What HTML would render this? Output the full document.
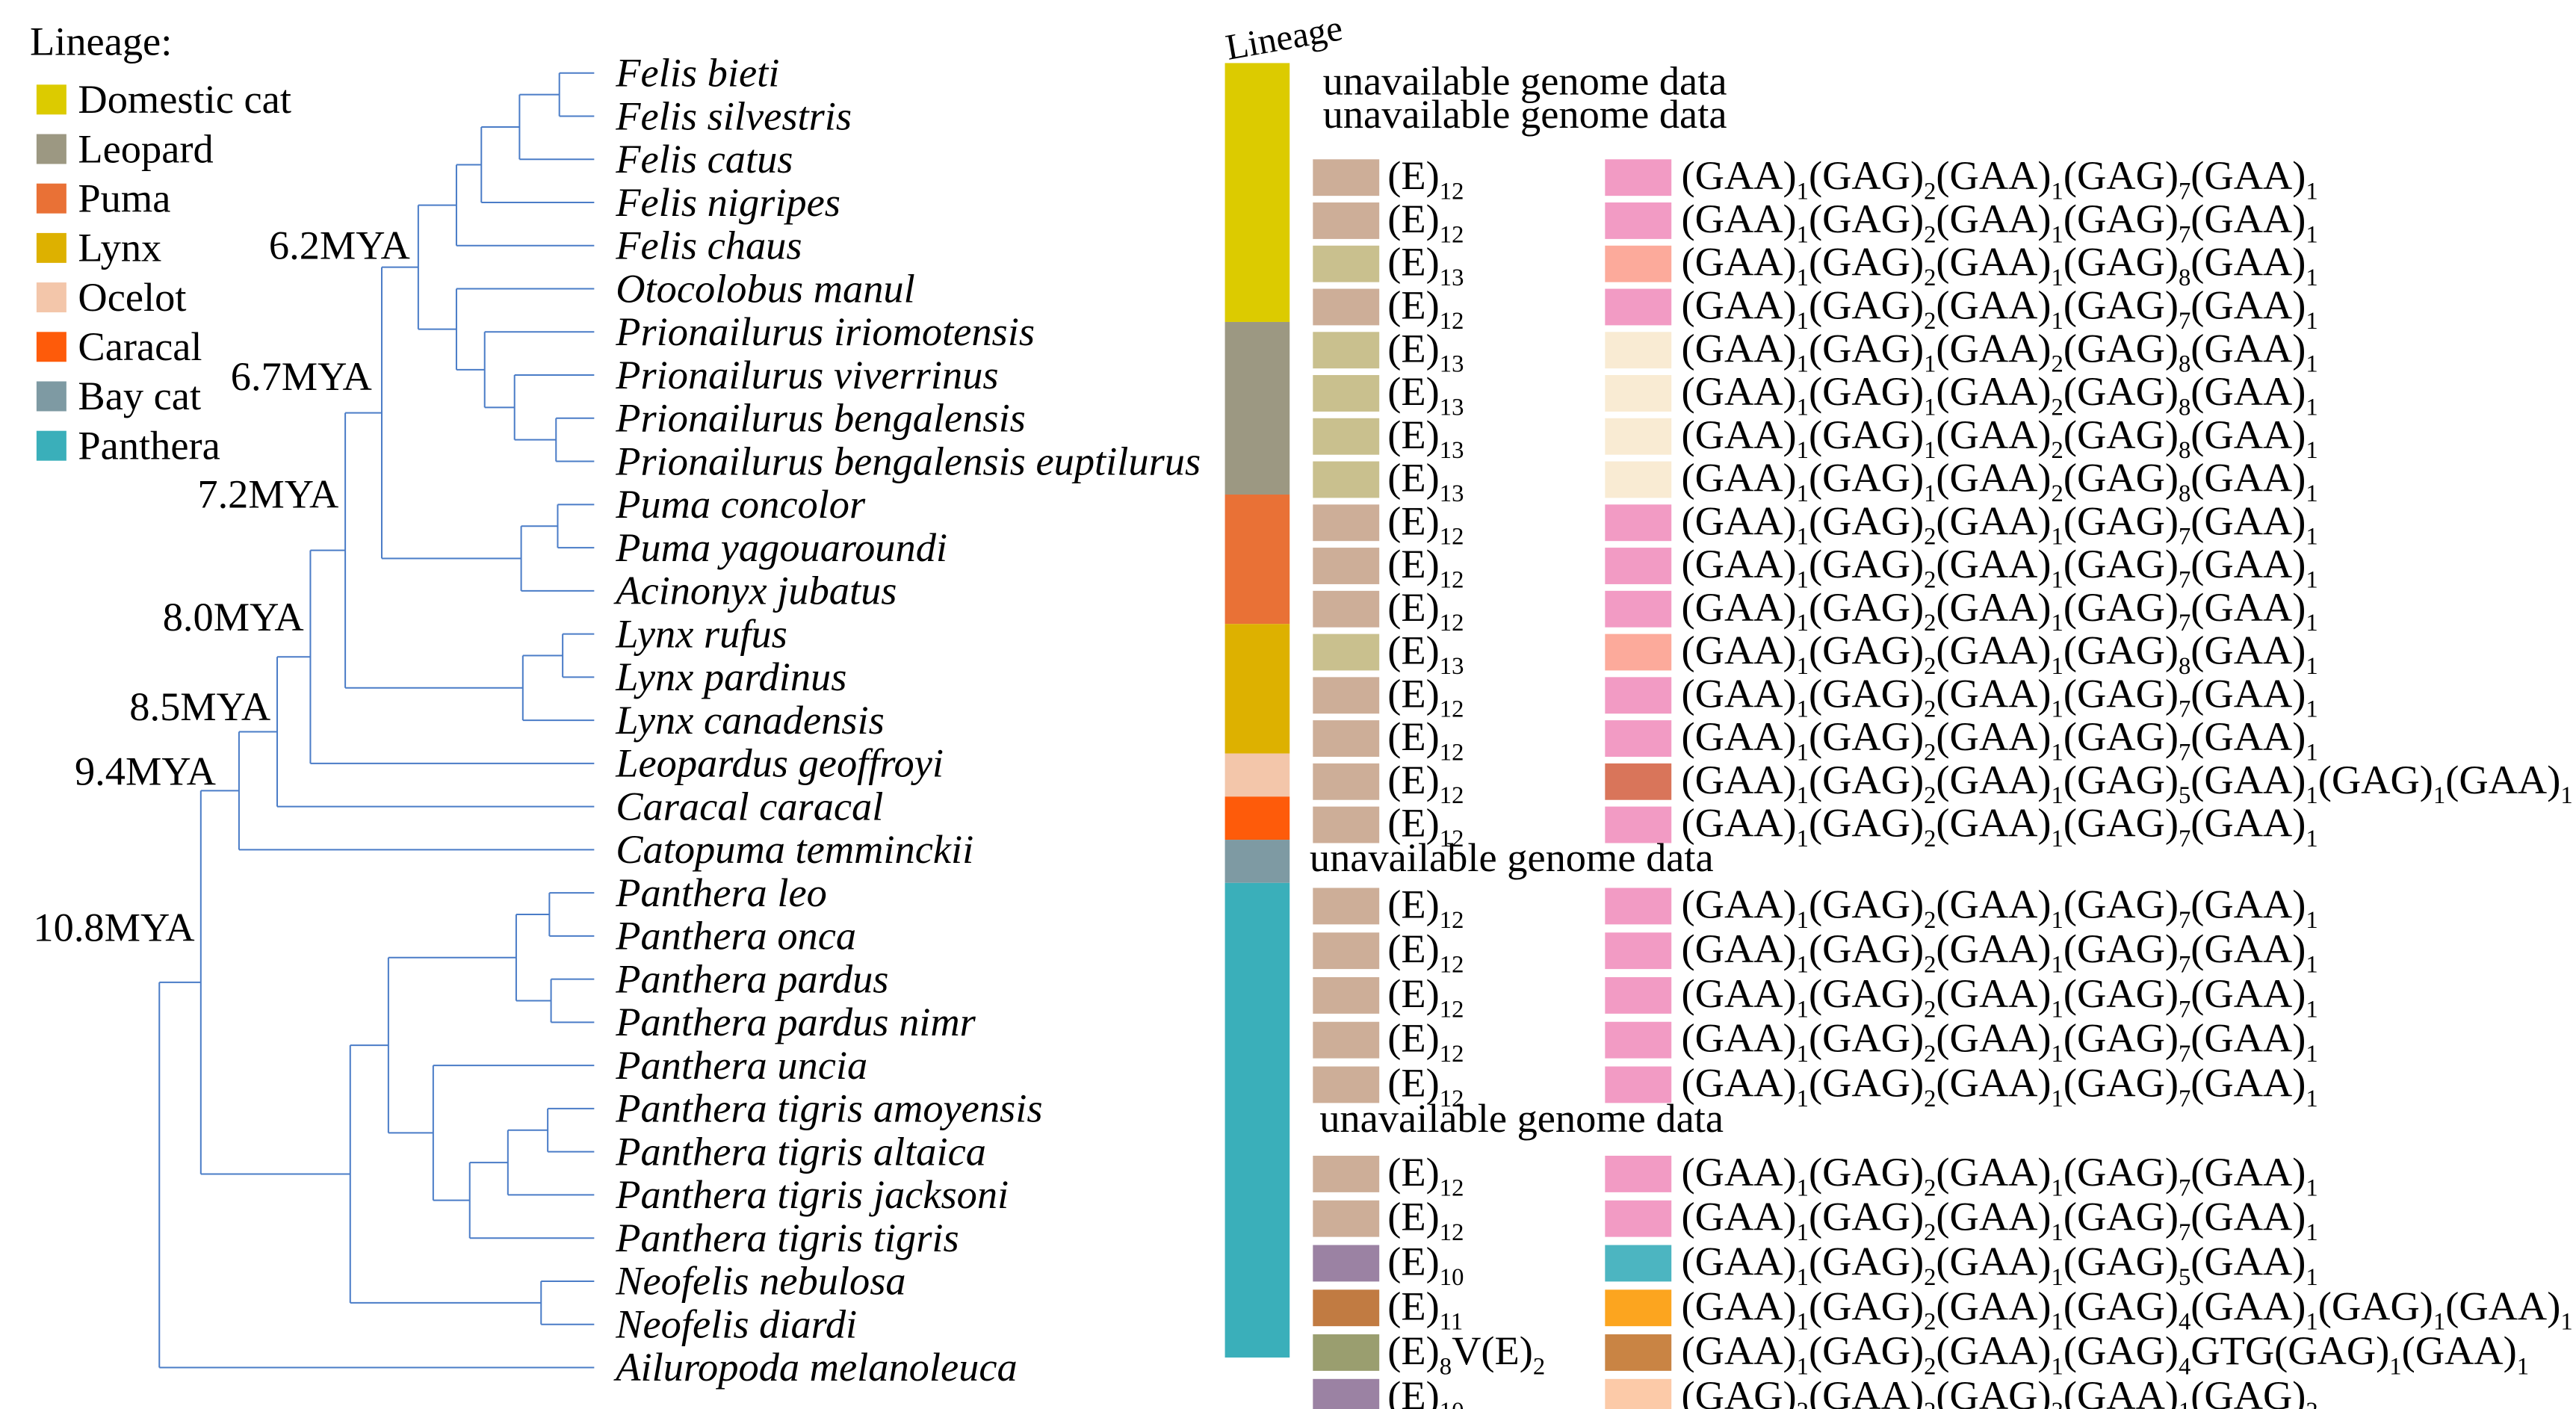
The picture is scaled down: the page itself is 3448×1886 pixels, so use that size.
<!DOCTYPE html>
<html><head><meta charset="utf-8"><style>
html,body{margin:0;padding:0;background:#fff;}
svg{display:block;}
text{font-family:"Liberation Serif","Times New Roman",serif;fill:#000;}
</style></head><body>
<svg id="chart" xmlns="http://www.w3.org/2000/svg" width="3448" height="1886" viewBox="0 0 1552 849" preserveAspectRatio="none" font-family="Liberation Serif, serif">
<rect width="1552" height="849" fill="#fff"/>
<g id="legend"></g>
<g id="tree"></g>
<g id="labels"></g>
<g id="ages"></g>
<g id="bar"></g>
<g id="table"></g>
</svg>
<script>
const species=["Felis bieti","Felis silvestris","Felis catus","Felis nigripes","Felis chaus","Otocolobus manul","Prionailurus iriomotensis","Prionailurus viverrinus","Prionailurus bengalensis","Prionailurus bengalensis euptilurus","Puma concolor","Puma yagouaroundi","Acinonyx jubatus","Lynx rufus","Lynx pardinus","Lynx canadensis","Leopardus geoffroyi","Caracal caracal","Catopuma temminckii","Panthera leo","Panthera onca","Panthera pardus","Panthera pardus nimr","Panthera uncia","Panthera tigris amoyensis","Panthera tigris altaica","Panthera tigris jacksoni","Panthera tigris tigris","Neofelis nebulosa","Neofelis diardi","Ailuropoda melanoleuca"];
const lineageNames=["Domestic cat","Leopard","Puma","Lynx","Ocelot","Caracal","Bay cat","Panthera"];
const lineageColors=["#dccb00","#9c9882","#e97136","#ddb100","#f3c6aa","#fe5b0a","#7e9aa3","#3aafba"];
const lineageRows=[6,4,3,3,1,1,1,11];
const ageLabels=["6.2MYA","6.7MYA","7.2MYA","8.0MYA","8.5MYA","9.4MYA","10.8MYA"];
const agePos=[[162,156],[139,235],[119,306],[98,380],[78,434],[45,473],[20,567]];
const eLabels=["","", "(E)_12","(E)_12","(E)_13","(E)_12","(E)_13","(E)_13","(E)_13","(E)_13","(E)_12","(E)_12","(E)_12","(E)_13","(E)_12","(E)_12","(E)_12","(E)_12"];
const eColors=["","","#cdae98","#cdae98","#c9c08e","#cdae98","#c9c08e","#c9c08e","#c9c08e","#c9c08e","#cdae98","#cdae98","#cdae98","#c9c08e","#cdae98","#cdae98","#cdae98","#cdae98"];
const gLabels=["","","(GAA)_1(GAG)_2(GAA)_1(GAG)_7(GAA)_1","(GAA)_1(GAG)_2(GAA)_1(GAG)_7(GAA)_1","(GAA)_1(GAG)_2(GAA)_1(GAG)_8(GAA)_1","(GAA)_1(GAG)_2(GAA)_1(GAG)_7(GAA)_1","(GAA)_1(GAG)_1(GAA)_2(GAG)_8(GAA)_1","(GAA)_1(GAG)_1(GAA)_2(GAG)_8(GAA)_1","(GAA)_1(GAG)_1(GAA)_2(GAG)_8(GAA)_1","(GAA)_1(GAG)_1(GAA)_2(GAG)_8(GAA)_1","(GAA)_1(GAG)_2(GAA)_1(GAG)_7(GAA)_1","(GAA)_1(GAG)_2(GAA)_1(GAG)_7(GAA)_1","(GAA)_1(GAG)_2(GAA)_1(GAG)_7(GAA)_1","(GAA)_1(GAG)_2(GAA)_1(GAG)_8(GAA)_1","(GAA)_1(GAG)_2(GAA)_1(GAG)_7(GAA)_1","(GAA)_1(GAG)_2(GAA)_1(GAG)_7(GAA)_1","(GAA)_1(GAG)_2(GAA)_1(GAG)_5(GAA)_1(GAG)_1(GAA)_1","(GAA)_1(GAG)_2(GAA)_1(GAG)_7(GAA)_1"];
const gColors=["","","#f29bc4","#f29bc4","#fcaa9b","#f29bc4","#f9ebd3","#f9ebd3","#f9ebd3","#f9ebd3","#f29bc4","#f29bc4","#f29bc4","#fcaa9b","#f29bc4","#f29bc4","#d9755a","#f29bc4"];
const pELabels=["(E)_12","(E)_12","(E)_12","(E)_12","(E)_12","","(E)_12","(E)_12","(E)_10","(E)_11","(E)_8V(E)_2","(E)_10"];
const pEColors=["#cdae98","#cdae98","#cdae98","#cdae98","#cdae98","","#cdae98","#cdae98","#9b82a3","#c17b42","#9a9e6f","#9b82a3"];
const pGLabels=["(GAA)_1(GAG)_2(GAA)_1(GAG)_7(GAA)_1","(GAA)_1(GAG)_2(GAA)_1(GAG)_7(GAA)_1","(GAA)_1(GAG)_2(GAA)_1(GAG)_7(GAA)_1","(GAA)_1(GAG)_2(GAA)_1(GAG)_7(GAA)_1","(GAA)_1(GAG)_2(GAA)_1(GAG)_7(GAA)_1","","(GAA)_1(GAG)_2(GAA)_1(GAG)_7(GAA)_1","(GAA)_1(GAG)_2(GAA)_1(GAG)_7(GAA)_1","(GAA)_1(GAG)_2(GAA)_1(GAG)_5(GAA)_1","(GAA)_1(GAG)_2(GAA)_1(GAG)_4(GAA)_1(GAG)_1(GAA)_1","(GAA)_1(GAG)_2(GAA)_1(GAG)_4GTG(GAG)_1(GAA)_1","(GAG)_2(GAA)_2(GAG)_3(GAA)_1(GAG)_2"];
const pGColors=["#f29bc4","#f29bc4","#f29bc4","#f29bc4","#f29bc4","","#f29bc4","#f29bc4","#4cb5c1","#fca51f","#c98444","#fccaa8"];

const FS=24.5;
const FF="Liberation Serif, Times New Roman, serif";
const NS="http://www.w3.org/2000/svg";
function mk(tag,attrs,parent){const e=document.createElementNS(NS,tag);for(const k in attrs)e.setAttribute(k,attrs[k]);parent.appendChild(e);return e;}
function richText(parent,x,y,str,size){
  const t=mk("text",{x:x,y:y,"font-size":size,"font-family":FF},parent);
  const re=/([^_]+)|_(\d+)/g;let m;let sub=false;
  while((m=re.exec(str))){
    if(m[1]!==undefined){
      const ts=mk("tspan",{dy:sub?-6:0},t);ts.textContent=m[1];sub=false;
    }else{
      const ts=mk("tspan",{dy:6,"font-size":size*0.6},t);ts.textContent=m[2];sub=true;
    }
  }
  return t;
}
// legend
const lg=document.getElementById("legend");
let t=mk("text",{x:18,y:33,"font-size":FS,"font-family":FF},lg);t.textContent="Lineage:";


lineageNames.forEach((n,i)=>{
  const y=60+i*29.8;
  const r=mk("rect",{x:22,y:y-9,width:18,height:18,fill:lineageColors[i]},lg);
  
  
  const tx=mk("text",{x:47,y:y+8,"font-size":FS,"font-family":FF},lg);tx.textContent=n;
  
  
});
// tree
function leafY(i){return 44+26*i;}
const TIPX=358;
function N(x,c){return {x:x,c:c};}
const felis=N(275,[N(290,[N(313,[N(337,[0,1]),2]),3]),4]);
const prion=N(275,[5,N(292,[6,N(310,[7,N(335,[8,9])])])]);
const puma=N(314,[N(336,[10,11]),12]);
const lynx=N(315,[N(339,[13,14]),15]);
const panth=N(211,[N(234,[N(311,[N(331,[19,20]),N(332,[21,22])]),N(261,[23,N(283,[N(306,[N(330,[24,25]),26]),27])])]),N(326,[28,29])]);
const root=N(96,[N(121,[N(144,[N(167,[N(187,[N(208,[N(230,[N(252,[felis,prion]),puma]),lynx]),16]),17]),18]),panth]),30]);
const tg=document.getElementById("tree");
function draw(n){
  if(typeof n==="number")return leafY(n);
  const ys=n.c.map(ch=>{
    const y=draw(ch);const cx=typeof ch==="number"?TIPX:ch.x;
    const l=mk("line",{x1:n.x,y1:y,x2:cx,y2:y,stroke:"#4a7cc7","stroke-width":0.9},tg);
    
    
    return y;});
  const v=mk("line",{x1:n.x,y1:Math.min(...ys),x2:n.x,y2:Math.max(...ys),stroke:"#4a7cc7","stroke-width":0.9},tg);
  
  
  return (Math.min(...ys)+Math.max(...ys))/2;
}
draw(root);
const lb=document.getElementById("labels");
species.forEach((s,i)=>{
  const tx=mk("text",{x:371,y:leafY(i)+8,"font-size":FS,"font-style":"italic","font-family":FF},lb);tx.textContent=s;
  
  
});
const ag=document.getElementById("ages");
ageLabels.forEach((a,i)=>{
  const tx=mk("text",{x:agePos[i][0],y:agePos[i][1],"font-size":FS,"font-family":FF},ag);tx.textContent=a;
  
  
});
// lineage bar
const bg=document.getElementById("bar");
const lt=mk("text",{x:740,y:36,"font-size":22,"font-family":FF,transform:"rotate(-10 740 36)"},bg);lt.textContent="Lineage";


let by=38;
lineageRows.forEach((n,i)=>{
  const r=mk("rect",{x:738,y:by,width:39,height:n*26,fill:lineageColors[i]},bg);
  
  
  by+=n*26;
});
// table
const tb=document.getElementById("table");
function una(x,y){const tx=mk("text",{x:x,y:y,"font-size":FS,"font-family":FF},tb);tx.textContent="unavailable genome data";
  
  }
una(797,57);una(797,77);
function row(y,eL,eC,gL,gC){
  if(!eL)return;
  const r1=mk("rect",{x:791,y:y-11,width:40,height:22,fill:eC},tb);
  
  
  const t1=richText(tb,836,y+7,eL,FS);
  
  
  const r2=mk("rect",{x:967,y:y-11,width:40,height:22,fill:gC},tb);
  
  
  const t2=richText(tb,1013,y+7,gL,FS);
  
  
}
eLabels.forEach((e,i)=>row(55+26*i,e,eColors[i],gLabels[i],gColors[i]));
una(789,525);
pELabels.forEach((e,i)=>row(546+26.9*i,e,pEColors[i],pGLabels[i],pGColors[i]));
una(795,682);
</script>
</body></html>
